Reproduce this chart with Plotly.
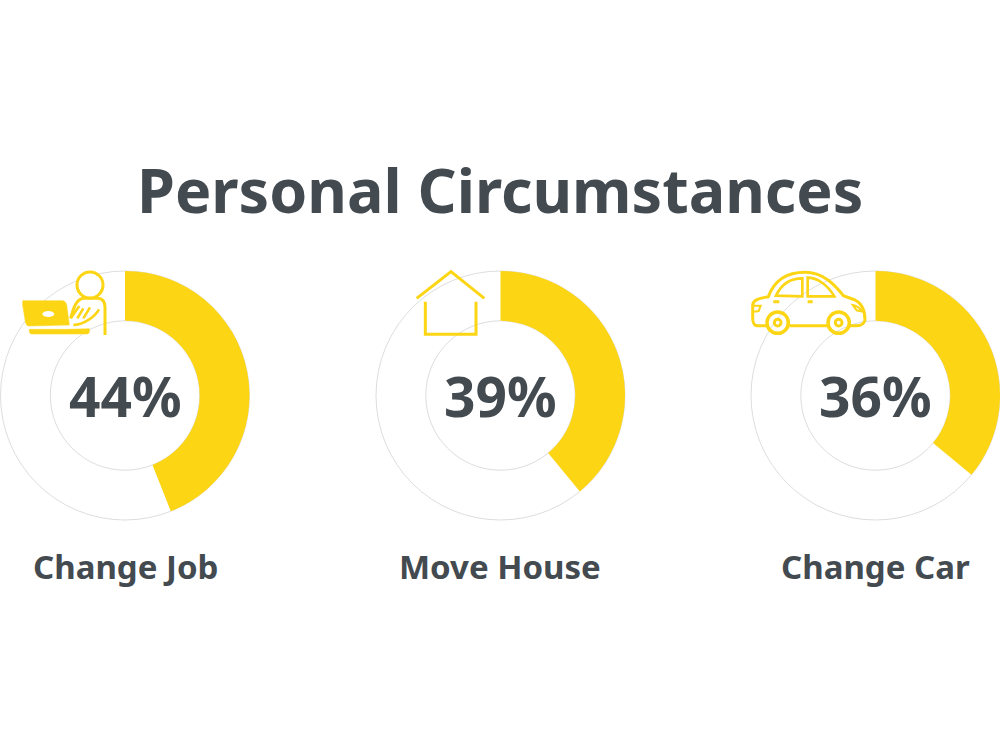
import re
import plotly.graph_objects as go

TITLE = "Personal Circumstances"
categories = ["Change Job", "Move House", "Change Car"]
percent_values = [44, 39, 36]

YELLOW = "#FCD514"
DARK = "#434A50"
FONT = "Noto Sans"
W, H = 1000, 753
CX = [125, 500.5, 875.5]
CY, R = 395.5, 124.5


def px(x):
    return x / W


def py(y):
    return 1 - y / H


def conv(path, ox, oy, s=1 / 3):
    """Convert a path written in zoomed-in icon space to paper fractions."""
    toks = re.findall(r"[A-Za-z]|-?[\d.]+", path)
    out, isx = [], True
    for t in toks:
        if t.isalpha():
            out.append(t)
            isx = True
        else:
            v = float(t) * s
            out.append(f"{px(v + ox):.5f}" if isx else f"{py(v + oy):.5f}")
            isx = not isx
    return " ".join(out)


def line(path, ox, oy, width=2.6, fill=None):
    return dict(type="path", path=conv(path, ox, oy), xref="paper", yref="paper",
                line=dict(color=YELLOW, width=width),
                fillcolor=fill if fill else "rgba(0,0,0,0)", layer="above")


def circ(cx, cy, rx, ox, oy, ry=None, width=2.6, fill=None, lc=YELLOW):
    ry = ry if ry is not None else rx
    return dict(type="circle", xref="paper", yref="paper",
                x0=px(ox + (cx - rx) / 3), x1=px(ox + (cx + rx) / 3),
                y0=py(oy + (cy + ry) / 3), y1=py(oy + (cy - ry) / 3),
                line=dict(color=lc, width=width),
                fillcolor=fill if fill else "rgba(0,0,0,0)", layer="above")


fig = go.Figure()
for i, (name, val) in enumerate(zip(categories, percent_values)):
    half = min(R, W - CX[i])
    dom = dict(x=[px(CX[i] - half), px(CX[i] + half)], y=[py(CY + R), py(CY - R)])
    fig.add_trace(go.Pie(values=[100], domain=dom, hole=0.6, sort=False,
                         marker=dict(colors=["#FFFFFF"], line=dict(color="#CFCFCF", width=0.7)),
                         textinfo="none", hoverinfo="skip", showlegend=False))
    fig.add_trace(go.Pie(values=[val, 100 - val], labels=[name, "Other"], domain=dom, hole=0.6,
                         sort=False, direction="clockwise", rotation=0,
                         marker=dict(colors=[YELLOW, "rgba(0,0,0,0)"], line=dict(width=0)),
                         textinfo="none", hoverinfo="label+value", showlegend=False))

annotations = [dict(text=f"<b>{TITLE}</b>", x=0.5, y=py(189), xref="paper", yref="paper",
                    xanchor="center", yanchor="middle", showarrow=False,
                    font=dict(family=FONT, size=61, color=DARK))]
for i, (name, val) in enumerate(zip(categories, percent_values)):
    annotations.append(dict(text=f"<b>{val}%</b>", x=px(CX[i]), y=py(395.5), xref="paper", yref="paper",
                            xanchor="center", yanchor="middle", showarrow=False,
                            font=dict(family=FONT, size=55, color=DARK)))
    annotations.append(dict(text=f"<b>{name}</b>", x=px(CX[i]), y=py(566), xref="paper", yref="paper",
                            xanchor="center", yanchor="middle", showarrow=False,
                            font=dict(family=FONT, size=33, color=DARK)))

shapes = []
# person + laptop icon
ox, oy = 0, 250
shapes.append(circ(270, 105, 39, ox, oy, fill="#FFFFFF", width=3))
shapes.append(line("M 212 205 C 220 175 228 148 250 145 L 295 145 C 308 147 315 158 315 172 L 315 255", ox, oy, width=3))
shapes.append(line("M 68 152 L 185 152 C 195 152 198 158 200 165 L 208 225 L 86 228 C 80 228 78 222 76 215 L 68 165 Z",
                   ox, oy, width=0.5, fill=YELLOW))
shapes.append(circ(145, 192, 18, ox, oy, ry=9, width=0, fill="#FFFFFF"))
shapes.append(line("M 88 238 L 200 238 L 268 236 L 268 245 C 268 250 264 252 258 252 L 96 252 C 90 252 88 248 88 244 Z",
                   ox, oy, width=0.5, fill=YELLOW))
shapes.append(line("M 212 205 L 238 168 M 232 205 L 250 175 M 250 205 L 270 172 M 220 225 C 250 225 285 200 297 178", ox, oy, width=2.6))
# house icon
ox, oy = 400, 255
shapes.append(line("M 50 130 L 153 50 L 253 130", ox, oy, width=3))
shapes.append(line("M 76 140 L 76 238 L 228 238 L 228 140", ox, oy, width=3))
# car icon
ox, oy = 740, 255
shapes.append(line("M 78 212 L 52 212 C 42 212 38 200 38 190 L 38 150 C 40 132 60 130 85 125 "
                   "C 100 85 130 52 195 52 C 250 52 285 90 310 122 L 345 135 C 365 145 375 165 375 195 "
                   "C 372 208 360 212 350 212 L 328 212", ox, oy, width=3))
shapes.append(line("M 148 212 L 262 212", ox, oy, width=3))
shapes.append(line("M 108 122 C 125 85 150 70 187 70 L 187 124 Z", ox, oy, width=2.6))
shapes.append(line("M 203 68 C 230 68 262 88 283 124 L 203 124 Z", ox, oy, width=2.6))
shapes.append(line("M 100 140 L 118 140 M 203 140 L 218 140", ox, oy, width=3))
shapes.append(line("M 38 152 L 62 152 L 56 168 L 42 170", ox, oy, width=2))
shapes.append(line("M 338 150 C 350 152 360 160 368 170 L 350 166 Z", ox, oy, width=2))
for wx in (113, 296):
    shapes.append(circ(wx, 203, 32, ox, oy, width=3.5))
    shapes.append(circ(wx, 203, 10, ox, oy, width=3))

fig.update_layout(width=W, height=H, autosize=False, margin=dict(l=0, r=0, t=0, b=0),
                  paper_bgcolor="#FFFFFF", plot_bgcolor="#FFFFFF",
                  annotations=annotations, shapes=shapes, showlegend=False)
fig.write_html("out.html", config=dict(displayModeBar=False),
               post_script="document.body.style.margin='0';document.body.style.overflow='hidden';")
